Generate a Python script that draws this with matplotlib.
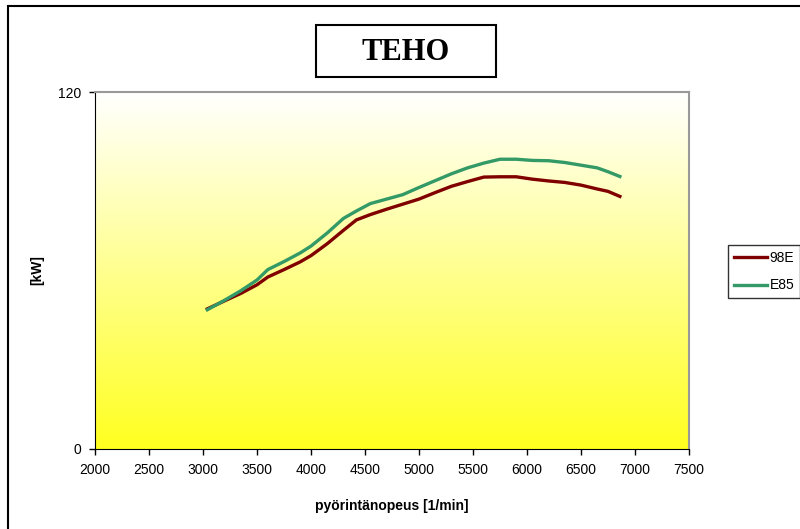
import numpy as np
import matplotlib.pyplot as plt
from matplotlib.patches import Rectangle

rpm = [3040, 3200, 3350, 3500, 3600, 3750, 3900, 4000, 4150, 4300, 4420, 4550, 4700, 4850,
       5000, 5150, 5300, 5450, 5600, 5750, 5900, 6050, 6200, 6350, 6500, 6650, 6750, 6860]
teho_98e = [47.1, 49.8, 52.3, 55.2, 57.8, 60.3, 62.9, 65.0, 69.0, 73.5, 77.0, 78.8, 80.6, 82.3,
            84.0, 86.2, 88.3, 89.9, 91.4, 91.5, 91.5, 90.7, 90.1, 89.6, 88.7, 87.4, 86.6, 84.9]
teho_e85 = [46.8, 50.0, 53.2, 56.8, 60.3, 63.0, 65.9, 68.2, 72.6, 77.5, 80.0, 82.5, 84.0, 85.5,
            87.9, 90.2, 92.5, 94.5, 96.1, 97.4, 97.4, 97.0, 96.9, 96.3, 95.4, 94.5, 93.2, 91.6]
xticks = [2000, 2500, 3000, 3500, 4000, 4500, 5000, 5500, 6000, 6500, 7000, 7500]

plt.rcParams['font.family'] = ['Liberation Sans', 'DejaVu Sans']

W, H = 800, 529
fig = plt.figure(figsize=(W / 100, H / 100), dpi=100)
# outer chart border
fig.patches.append(Rectangle((8 / W, -0.05), 1.0, 1 - 6 / H + 0.05, transform=fig.transFigure,
                             fill=False, edgecolor='black', linewidth=1.5))
# title box
fig.patches.append(Rectangle((316 / W, 1 - 77 / H), 180 / W, 52 / H, transform=fig.transFigure,
                             facecolor='white', edgecolor='black', linewidth=1.5))
fig.text(406 / W, 1 - 52 / H, 'TEHO', ha='center', va='center', fontsize=22,
         fontweight='bold', family='Liberation Serif')

ax = fig.add_axes([95 / W, 80 / H, 594 / W, 357 / H])

# white -> yellow gradient background
grad = np.linspace(0, 1, 256).reshape(-1, 1)
cmap = plt.matplotlib.colors.LinearSegmentedColormap.from_list('wy', ['#ffffff', '#ffff20'])
ax.imshow(grad, aspect='auto', cmap=cmap, extent=[2000, 7500, 0, 120], origin='upper', zorder=0)

ax.plot(rpm, teho_98e, color='#800000', linewidth=2.4, label='98E', zorder=3)
ax.plot(rpm, teho_e85, color='#339966', linewidth=2.4, label='E85', zorder=3)

ax.set_xlim(2000, 7500)
ax.set_ylim(0, 120)
ax.set_xticks(xticks)
ax.set_yticks([0, 120])
ax.tick_params(labelsize=10, direction='out', length=4, width=1, pad=6)
for s in ['top', 'right']:
    ax.spines[s].set_color('#999999')
    ax.spines[s].set_linewidth(1.5)
for s in ['left', 'bottom']:
    ax.spines[s].set_color('black')

ax.set_xlabel('pyörintänopeus [1/min]', fontsize=10, fontweight='bold', labelpad=16)
ax.set_ylabel('[kW]', fontsize=10, fontweight='bold', labelpad=10)

leg = fig.legend(loc='upper left', bbox_to_anchor=(728 / W, 1 - 245 / H), fontsize=10,
                 frameon=True, fancybox=False, edgecolor='black', handlelength=2.4,
                 handletextpad=0.2, borderpad=0.4, borderaxespad=0, labelspacing=1.0)
leg.get_frame().set_linewidth(1)

fig.savefig('out.png', dpi=100)
